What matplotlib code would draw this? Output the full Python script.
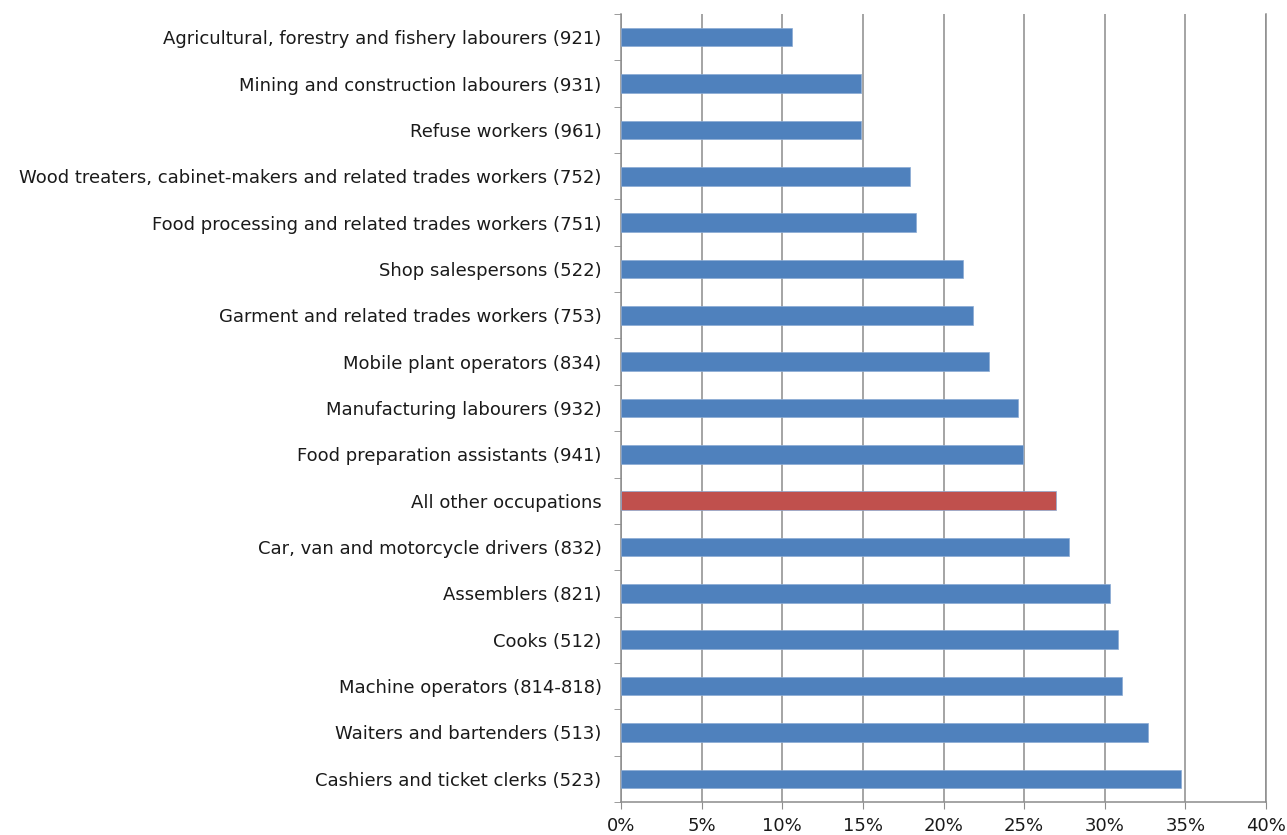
import matplotlib
matplotlib.use("Agg")
import matplotlib.pyplot as plt
from matplotlib.ticker import MultipleLocator, PercentFormatter
import numpy as np

# Occupations, top to bottom as in the chart
occupations = [
    "Agricultural, forestry and fishery labourers (921)",
    "Mining and construction labourers (931)",
    "Refuse workers (961)",
    "Wood treaters, cabinet-makers and related trades workers (752)",
    "Food processing and related trades workers (751)",
    "Shop salespersons (522)",
    "Garment and related trades workers (753)",
    "Mobile plant operators (834)",
    "Manufacturing labourers (932)",
    "Food preparation assistants (941)",
    "All other occupations",
    "Car, van and motorcycle drivers (832)",
    "Assemblers (821)",
    "Cooks (512)",
    "Machine operators (814-818)",
    "Waiters and bartenders (513)",
    "Cashiers and ticket clerks (523)",
]
shares = [10.6, 14.9, 14.9, 17.9, 18.3, 21.2, 21.8, 22.8, 24.6, 24.9,
          27.0, 27.8, 30.3, 30.8, 31.1, 32.7, 34.7]
highlight = "All other occupations"

plt.rcParams['font.family'] = ['DejaVu Sans']

fig = plt.figure(figsize=(12.87, 8.35), dpi=100)
ax = fig.add_axes([621 / 1287, 1 - 802 / 835, 645 / 1287, 788 / 835])

y = np.arange(len(occupations))[::-1]
colors = ["#C0504D" if o == highlight else "#4F81BD" for o in occupations]
ax.barh(y, shares, height=0.4, color=colors, edgecolor="#8aaad4", linewidth=0.5, zorder=3)

ax.set_xlim(0, 40)
ax.set_ylim(-0.5, len(occupations) - 0.5)
ax.xaxis.set_major_locator(MultipleLocator(5))
ax.xaxis.set_major_formatter(PercentFormatter(decimals=0))
ax.grid(axis="x", color="#8c8c8c", linewidth=1.1, zorder=0)

ax.set_yticks(y)
ax.set_yticklabels(occupations)
ax.set_yticks(np.arange(-0.5, len(occupations)), minor=True)
ax.tick_params(axis="y", which="major", length=0, pad=14, labelsize=13, labelcolor="#1a1a1a")
ax.tick_params(axis="y", which="minor", length=5, color="#8c8c8c", direction="out")
ax.tick_params(axis="x", length=5, color="#8c8c8c", labelsize=13, labelcolor="#1a1a1a", pad=6)

ax.spines["top"].set_visible(False)
for s in ["left", "bottom", "right"]:
    ax.spines[s].set_color("#8c8c8c")
    ax.spines[s].set_linewidth(1.1)

fig.savefig("out.png", dpi=100)
